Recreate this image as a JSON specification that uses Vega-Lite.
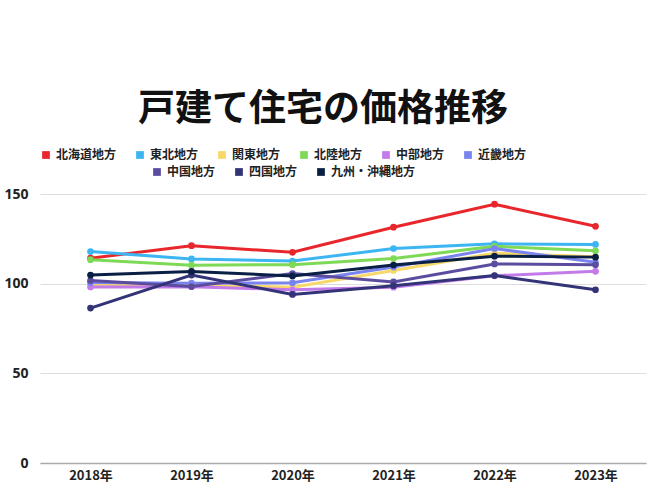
{
  "$schema": "https://vega.github.io/schema/vega-lite/v6.json",
  "autosize": "none",
  "width": 606,
  "height": 269,
  "padding": {"left": 40, "top": 194, "right": 4, "bottom": 25},
  "background": "white",
  "title": {
    "text": "戸建て住宅の価格推移",
    "font": "Noto Sans CJK JP",
    "fontSize": 37,
    "fontWeight": "bold",
    "color": "#111111",
    "anchor": "middle",
    "dx": -20,
    "offset": 20
  },
  "data": {
    "values": [
      {"region": "北海道地方", "year": "2018年", "value": 114.2},
      {"region": "北海道地方", "year": "2019年", "value": 121.2},
      {"region": "北海道地方", "year": "2020年", "value": 117.5},
      {"region": "北海道地方", "year": "2021年", "value": 131.5},
      {"region": "北海道地方", "year": "2022年", "value": 144.3},
      {"region": "北海道地方", "year": "2023年", "value": 132.0},
      {"region": "東北地方", "year": "2018年", "value": 117.9},
      {"region": "東北地方", "year": "2019年", "value": 113.8},
      {"region": "東北地方", "year": "2020年", "value": 112.6},
      {"region": "東北地方", "year": "2021年", "value": 119.6},
      {"region": "東北地方", "year": "2022年", "value": 122.2},
      {"region": "東北地方", "year": "2023年", "value": 121.9},
      {"region": "関東地方", "year": "2018年", "value": 99.5},
      {"region": "関東地方", "year": "2019年", "value": 99.3},
      {"region": "関東地方", "year": "2020年", "value": 98.0},
      {"region": "関東地方", "year": "2021年", "value": 107.4},
      {"region": "関東地方", "year": "2022年", "value": 117.0},
      {"region": "関東地方", "year": "2023年", "value": 115.0},
      {"region": "北陸地方", "year": "2018年", "value": 113.4},
      {"region": "北陸地方", "year": "2019年", "value": 110.3},
      {"region": "北陸地方", "year": "2020年", "value": 110.6},
      {"region": "北陸地方", "year": "2021年", "value": 114.0},
      {"region": "北陸地方", "year": "2022年", "value": 120.8},
      {"region": "北陸地方", "year": "2023年", "value": 118.3},
      {"region": "中部地方", "year": "2018年", "value": 98.2},
      {"region": "中部地方", "year": "2019年", "value": 98.3},
      {"region": "中部地方", "year": "2020年", "value": 96.6},
      {"region": "中部地方", "year": "2021年", "value": 98.0},
      {"region": "中部地方", "year": "2022年", "value": 104.4},
      {"region": "中部地方", "year": "2023年", "value": 106.9},
      {"region": "近畿地方", "year": "2018年", "value": 100.6},
      {"region": "近畿地方", "year": "2019年", "value": 100.3},
      {"region": "近畿地方", "year": "2020年", "value": 100.5},
      {"region": "近畿地方", "year": "2021年", "value": 109.3},
      {"region": "近畿地方", "year": "2022年", "value": 119.6},
      {"region": "近畿地方", "year": "2023年", "value": 111.9},
      {"region": "中国地方", "year": "2018年", "value": 101.7},
      {"region": "中国地方", "year": "2019年", "value": 98.4},
      {"region": "中国地方", "year": "2020年", "value": 105.6},
      {"region": "中国地方", "year": "2021年", "value": 101.0},
      {"region": "中国地方", "year": "2022年", "value": 111.0},
      {"region": "中国地方", "year": "2023年", "value": 110.5},
      {"region": "四国地方", "year": "2018年", "value": 86.4},
      {"region": "四国地方", "year": "2019年", "value": 104.8},
      {"region": "四国地方", "year": "2020年", "value": 94.0},
      {"region": "四国地方", "year": "2021年", "value": 98.9},
      {"region": "四国地方", "year": "2022年", "value": 104.5},
      {"region": "四国地方", "year": "2023年", "value": 96.6},
      {"region": "九州・沖縄地方", "year": "2018年", "value": 104.8},
      {"region": "九州・沖縄地方", "year": "2019年", "value": 106.8},
      {"region": "九州・沖縄地方", "year": "2020年", "value": 104.3},
      {"region": "九州・沖縄地方", "year": "2021年", "value": 110.4},
      {"region": "九州・沖縄地方", "year": "2022年", "value": 115.3},
      {"region": "九州・沖縄地方", "year": "2023年", "value": 114.8}
    ]
  },
  "encoding": {
    "x": {
      "field": "year",
      "type": "ordinal",
      "scale": {"type": "point", "padding": 0.5},
      "axis": {
        "title": null,
        "labelAngle": 0,
        "ticks": false,
        "domain": true,
        "domainColor": "#aaaaaa",
        "domainWidth": 1.5,
        "labelFont": "Noto Sans CJK JP",
        "labelFontSize": 13,
        "labelFontWeight": "bold",
        "labelColor": "#222222",
        "labelPadding": 6,
        "grid": false
      }
    },
    "y": {
      "field": "value",
      "type": "quantitative",
      "scale": {"domain": [0, 150]},
      "axis": {
        "title": null,
        "values": [0, 50, 100, 150],
        "ticks": false,
        "domain": false,
        "gridColor": "#dddddd",
        "gridWidth": 1,
        "labelFont": "Open Sans",
        "labelFontSize": 14,
        "labelFontWeight": "bold",
        "labelColor": "#222222",
        "labelPadding": 12
      }
    }
  },
  "layer": [
    {
      "transform": [{"filter": {"field": "region", "oneOf": ["北海道地方", "東北地方", "関東地方", "北陸地方", "中部地方", "近畿地方"]}}],
      "mark": {"type": "line", "strokeWidth": 3},
      "encoding": {
        "detail": {"field": "region"},
        "stroke": {
          "field": "region",
          "type": "nominal",
          "scale": {
            "domain": ["北海道地方", "東北地方", "関東地方", "北陸地方", "中部地方", "近畿地方"],
            "range": ["#e8262b", "#3db5f2", "#f8d86a", "#7ed956", "#c47bea", "#7a84ee"]
          },
          "legend": {
            "title": null,
            "orient": "top",
            "offset": 16,
            "direction": "horizontal",
            "symbolType": "square",
            "symbolSize": 60,
            "symbolStrokeWidth": 0,
            "labelFont": "Noto Sans CJK JP",
            "labelFontSize": 12,
            "labelFontWeight": "bold",
            "labelColor": "#222222",
            "columnPadding": 17,
            "encode": {"symbols": {"update": {"fill": {"scale": "stroke", "field": "value"}, "strokeWidth": {"value": 0}}}}
          }
        }
      }
    },
    {
      "transform": [{"filter": {"field": "region", "oneOf": ["北海道地方", "東北地方", "関東地方", "北陸地方", "中部地方", "近畿地方"]}}],
      "mark": {"type": "point", "filled": true, "size": 45, "opacity": 1},
      "encoding": {
        "fill": {
          "field": "region",
          "type": "nominal",
          "scale": {
            "domain": ["北海道地方", "東北地方", "関東地方", "北陸地方", "中部地方", "近畿地方"],
            "range": ["#e8262b", "#3db5f2", "#f8d86a", "#7ed956", "#c47bea", "#7a84ee"]
          },
          "legend": null
        }
      }
    },
    {
      "transform": [{"filter": {"field": "region", "oneOf": ["中国地方", "四国地方", "九州・沖縄地方"]}}],
      "mark": {"type": "line", "strokeWidth": 3, "point": {"filled": true, "size": 45, "opacity": 1}},
      "encoding": {
        "color": {
          "field": "region",
          "type": "nominal",
          "scale": {
            "domain": ["中国地方", "四国地方", "九州・沖縄地方"],
            "range": ["#5c4c9f", "#333378", "#0a1f44"]
          },
          "legend": {
            "title": null,
            "orient": "top",
            "offset": 16,
            "direction": "horizontal",
            "symbolType": "square",
            "symbolSize": 60,
            "symbolStrokeWidth": 0,
            "labelFont": "Noto Sans CJK JP",
            "labelFontSize": 12,
            "labelFontWeight": "bold",
            "labelColor": "#222222",
            "columnPadding": 17,
            "encode": {"symbols": {"update": {"fill": {"scale": "color", "field": "value"}, "strokeWidth": {"value": 0}}}}
          }
        }
      }
    }
  ],
  "config": {
    "view": {"stroke": null},
    "legend": {
      "layout": {"top": {"anchor": "start", "direction": "vertical", "center": true, "margin": 5}}
    }
  }
}
